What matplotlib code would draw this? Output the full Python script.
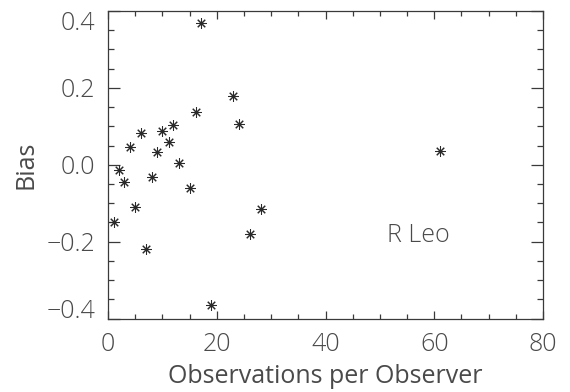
import numpy as np
import matplotlib.pyplot as plt
from matplotlib.ticker import MultipleLocator

# observations per observer vs. bias, one point per observer
n_obs = [17.1, 23.0, 24.1, 16.1, 12.0, 10.0, 6.1, 11.2, 4.1, 9.1, 13.1,
         2.1, 3.0, 8.0, 15.1, 61.0, 5.0, 1.1, 7.0, 19.0, 26.1, 28.1]
bias = [0.370, 0.178, 0.105, 0.138, 0.104, 0.089, 0.083, 0.059, 0.047, 0.032, 0.004,
        -0.013, -0.045, -0.033, -0.061, 0.037, -0.110, -0.150, -0.220, -0.365, -0.180, -0.115]

y_ticks = [-0.4, -0.2, 0.0, 0.2, 0.4]
y_ticklabels = ["\u22120.4", "\u22120.2", "0.0", "0.2", "0.4"]
star_name = "R Leo"

FG = "#3a3a3a"
TXT = "#4a4a4a"

plt.rcParams.update({
    "font.family": ["Open Sans", "DejaVu Sans"],
    "font.weight": "light",
    "font.size": 18,
    "axes.linewidth": 0.9,
    "axes.edgecolor": FG,
    "xtick.color": FG,
    "ytick.color": FG,
    "xtick.labelcolor": TXT,
    "ytick.labelcolor": TXT,
})

fig = plt.figure(figsize=(5.70, 3.92), dpi=100)
ax = fig.add_axes([108 / 570, 1 - 318.5 / 392, 435 / 570, 307.5 / 392])

ax.plot(n_obs, bias, linestyle="none", marker=(8, 2, 0), markersize=7.5,
        markeredgewidth=0.75, color="#2a2a2a")

ax.set_xlim(0, 80)
ax.set_ylim(-0.4, 0.4)
ax.xaxis.set_major_locator(MultipleLocator(20))
ax.xaxis.set_minor_locator(MultipleLocator(5))
ax.yaxis.set_minor_locator(MultipleLocator(0.05))
ax.set_yticks(y_ticks)
ax.set_yticklabels(y_ticklabels)

# keep the end labels inside the axis span
ylabs = ax.get_yticklabels()
ylabs[0].set_va("baseline")
ylabs[-1].set_va("top")

ax.tick_params(which="both", direction="in", top=True, right=True, width=0.9)
ax.tick_params(axis="x", which="major", length=6, pad=10)
ax.tick_params(axis="x", which="minor", length=3.5)
ax.tick_params(axis="y", which="major", length=8.5, pad=9)
ax.tick_params(axis="y", which="minor", length=4.5)

ax.set_xlabel("Observations per Observer", color=TXT, labelpad=5)
ax.set_ylabel("Bias", color=TXT, labelpad=6)

ax.text(57, -0.183, star_name, ha="center", va="center", color=TXT)

fig.savefig("out.png", dpi=100)
